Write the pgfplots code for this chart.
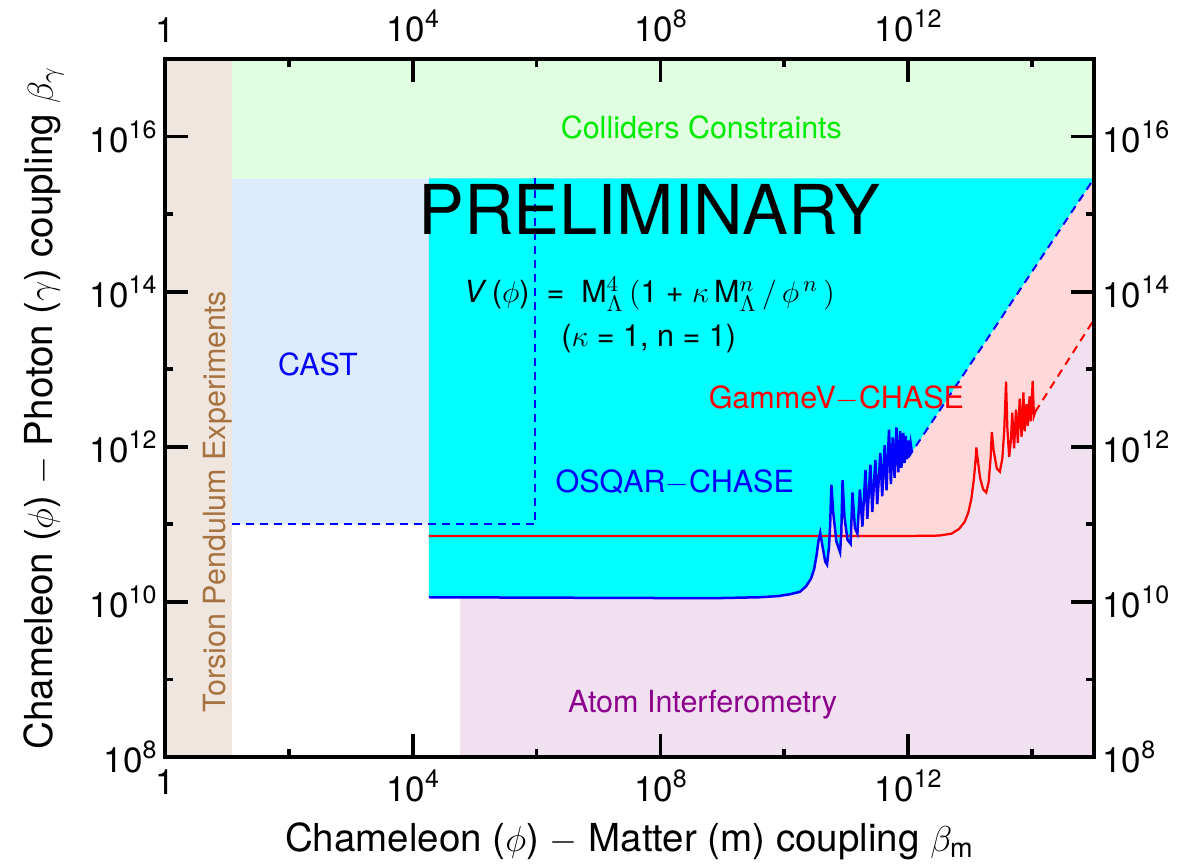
\documentclass[border=0pt]{standalone}
\usepackage{fontspec}
\setmainfont{TeX Gyre Heros}
\usepackage{pgfplots}
\usepackage{pgfplotstable}
\pgfplotsset{compat=1.18}

\definecolor{tanbg}{RGB}{240,230,224}
\definecolor{greenbg}{RGB}{224,255,224}
\definecolor{castbg}{RGB}{221,236,252}
\definecolor{pinkbg}{RGB}{255,217,217}
\definecolor{purplebg}{RGB}{240,224,240}
\definecolor{aquabg}{RGB}{0,255,255}
\definecolor{torsiontxt}{RGB}{166,115,64}
\definecolor{collidertxt}{RGB}{0,235,0}
\definecolor{atomtxt}{RGB}{140,0,140}

\newcommand\tp[1]{10\raisebox{5.6pt}{\fontsize{10}{10}\selectfont #1}}

% log10 of couplings: x = log10(beta_m), y = log10(beta_gamma)
\pgfplotstableread{
x y
4.26 10.06
6.00 10.055
8.00 10.05
9.00 10.05
9.60 10.06
9.90 10.075
10.10 10.10
10.25 10.13
10.35 10.20
10.43 10.30
10.48 10.42
10.52 10.60
10.55 10.78
10.58 10.89
10.62 10.70
10.66 10.52
10.69 10.48
10.72 10.70
10.74 11.00
10.76 11.51
10.79 11.15
10.84 10.78
10.90 10.64
10.92 10.90
10.94 11.57
10.97 11.10
11.02 10.80
11.07 10.75
11.10 11.41
11.14 10.95
11.18 10.88
11.22 11.45
11.26 10.97
11.31 11.70
11.34 11.07
11.39 11.77
11.42 11.16
11.47 11.83
11.50 11.26
11.55 11.92
11.58 11.36
11.62 12.02
11.65 11.44
11.69 12.22
11.72 11.52
11.75 12.12
11.78 11.60
11.81 12.25
11.84 11.67
11.87 12.20
11.89 11.73
11.92 12.18
11.94 11.79
11.96 12.14
11.98 11.84
12.00 12.08
12.02 11.88
12.04 12.04
12.06 11.93
}\blueT

\pgfplotstableread{
x y
4.26 10.85
8.00 10.85
12.00 10.85
12.50 10.855
12.70 10.88
12.82 10.94
12.91 11.03
12.97 11.15
13.02 11.33
13.06 11.58
13.09 11.85
13.10 11.99
13.12 11.85
13.16 11.60
13.21 11.45
13.26 11.41
13.30 11.55
13.33 11.85
13.35 12.19
13.38 11.95
13.43 11.72
13.48 11.68
13.52 11.85
13.55 12.20
13.58 12.84
13.60 12.25
13.63 11.87
13.66 12.10
13.68 12.44
13.71 11.98
13.74 12.48
13.77 12.05
13.80 12.62
13.83 12.13
13.86 12.70
13.88 12.20
13.91 12.55
13.93 12.27
13.96 12.65
13.98 12.33
14.01 12.85
14.03 12.40
14.05 12.45
}\redT

\pgfplotsset{
 frame/.style={
  width=371.6pt, height=279.2pt, scale only axis,
  xmin=0, xmax=15, ymin=8, ymax=17,
  at={(0,0)}, anchor=south west,
  axis line style={line width=1.5pt},
  tick align=inside,
  xtick={0,4,8,12}, minor xtick={2,6,10,14},
  ytick={8,10,12,14,16}, minor ytick={9,11,13,15},
  xticklabels={1,\tp{4},\tp{8},\tp{12}},
  yticklabels={\tp{8},\tp{10},\tp{12},\tp{14},\tp{16}},
  major tick length=9.2pt, minor tick length=3.2pt,
  every tick/.style={black, line width=1.5pt},
  tick label style={font=\fontsize{14}{14}\selectfont, inner sep=0pt},
  xtick pos=both, ytick pos=both,
 }
}

\begin{document}
\begin{tikzpicture}
\begin{axis}[frame,
  xticklabel pos=lower, yticklabel pos=left,
  xticklabel style={yshift=-5pt},
  yticklabel style={xshift=-3.2pt},
  xlabel={Chameleon ($\phi$) $-$ Matter (m) coupling $\beta_{\mathrm{m}}$},
  ylabel={Chameleon ($\phi$) $-$ Photon ($\gamma$) coupling $\beta_{\gamma}$},
  label style={font=\fontsize{15.4}{16}\selectfont},
  xlabel style={at={(axis description cs:0.5,-0.1361)}, anchor=base},
  ylabel style={at={(axis description cs:-0.1206,0.5)}, anchor=base},
]
% Atom interferometry
\addplot[fill=purplebg, draw=none] coordinates {(4.76,8) (15,8) (15,15.46) (4.76,15.46) (4.76,8)};
% CAST
\addplot[fill=castbg, draw=none] coordinates {(1.08,11) (6,11) (6,15.46) (1.08,15.46) (1.08,11)};
% Colliders
\addplot[fill=greenbg, draw=none] coordinates {(1.08,15.46) (15,15.46) (15,17) (1.08,17) (1.08,15.46)};
% Torsion pendulum
\addplot[fill=tanbg, draw=none] coordinates {(0,8) (1.08,8) (1.08,17) (0,17) (0,8)};
% GammeV-CHASE region
\addplot[fill=pinkbg, draw=none] table[x=x,y=y] {\redT} -- (axis cs:15,13.64) -- (axis cs:15,15.46) -- (axis cs:4.26,15.46) -- cycle;
% OSQAR-CHASE region
\addplot[fill=aquabg, draw=none] table[x=x,y=y] {\blueT} -- (axis cs:15,15.46) -- (axis cs:4.26,15.46) -- cycle;
% CAST boundary
\addplot[blue, line width=0.8pt, dash pattern=on 3.2pt off 2.4pt] coordinates {(1.08,11.0) (5.98,11.0) (5.98,15.46)};
% GammeV-CHASE curve
\addplot[red, line width=0.9pt] table[x=x,y=y] {\redT};
\addplot[red, line width=0.8pt, dash pattern=on 3.2pt off 2.4pt] coordinates {(14.05,12.45) (15,13.64)};
% OSQAR-CHASE curve
\addplot[blue, line width=1pt] table[x=x,y=y] {\blueT};
\addplot[blue, line width=0.8pt, dash pattern=on 3.2pt off 2.4pt] coordinates {(12.00,11.86) (15,15.46)};

\node[font=\fontsize{27.5}{28}\selectfont] at (axis cs:7.82,15.06) {PRELIMINARY};
\node[anchor=base, font=\fontsize{12.2}{14}\selectfont, text=collidertxt] at (axis cs:8.66,15.974) {Colliders Constraints};
\node[anchor=base, font=\fontsize{12.2}{14}\selectfont, text=blue] at (axis cs:2.47,12.92) {CAST};
\node[anchor=base, font=\fontsize{12.2}{14}\selectfont, text=red] at (axis cs:10.84,12.50) {GammeV$-$CHASE};
\node[anchor=base, font=\fontsize{12.2}{14}\selectfont, text=blue] at (axis cs:8.23,11.41) {OSQAR$-$CHASE};
\node[anchor=base, font=\fontsize{12.2}{14}\selectfont, text=atomtxt] at (axis cs:8.68,8.57) {Atom Interferometry};
\node[anchor=base, rotate=90, font=\fontsize{12.2}{14}\selectfont, text=torsiontxt] at (axis cs:0.97,11.29) {Torsion Pendulum Experiments};
\node[anchor=base, font=\fontsize{12.2}{14}\selectfont] at (axis cs:7.82,13.86) {\textit{V}\,($\phi$) \ = \ M$^{4}_{\Lambda}$\,$\bigl($1 + $\kappa$\,M$^{n}_{\Lambda}$\,$\big/$\,$\phi^{\,n}$\,$\bigr)$};
\node[anchor=base, font=\fontsize{12.2}{14}\selectfont] at (axis cs:7.81,13.29) {($\kappa$ = 1, n = 1)};
\end{axis}
\begin{axis}[frame,
  xticklabel pos=upper, yticklabel pos=right,
  xticklabel style={yshift=6.6pt},
  yticklabel style={xshift=3.2pt},
]
\end{axis}
\pgfresetboundingbox
\useasboundingbox (-66pt,-42.4pt) rectangle (409.6pt,302.8pt);
\end{tikzpicture}
\end{document}
